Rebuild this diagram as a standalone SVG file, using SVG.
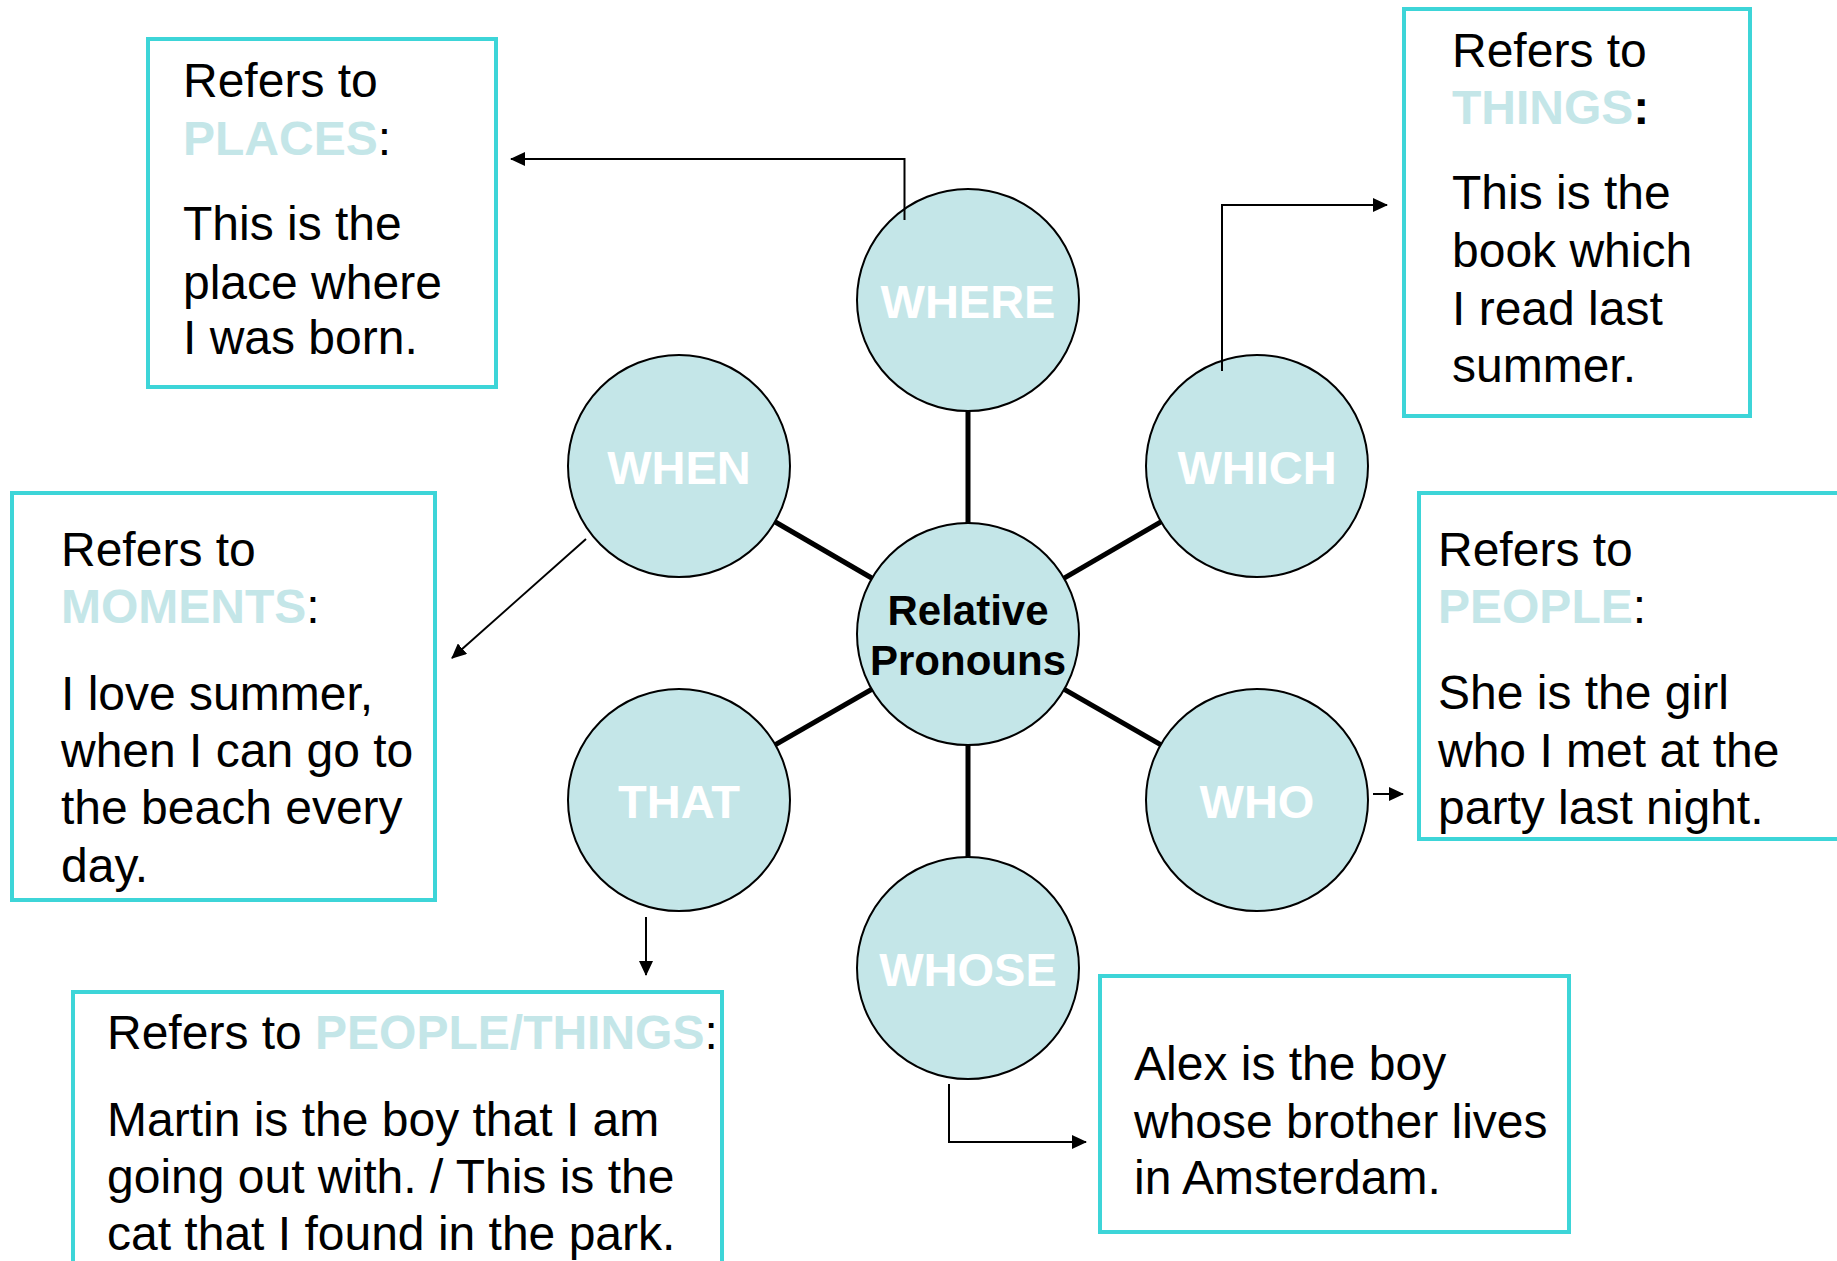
<svg xmlns="http://www.w3.org/2000/svg" width="1837" height="1261" viewBox="0 0 1837 1261">
<style>
.box{fill:#fff;stroke:#3dd5d8;stroke-width:4}
.circ{fill:#c4e6e8;stroke:#000;stroke-width:2}
.t{font-family:"Liberation Sans",Arial,sans-serif;font-size:48px;fill:#000}
.hl{font-weight:bold;fill:#c4e6e8}
.lbl{font-family:"Liberation Sans",Arial,sans-serif;font-size:47px;font-weight:bold;fill:#fff;text-anchor:middle}
.ctr{font-family:"Liberation Sans",Arial,sans-serif;font-size:42px;font-weight:bold;fill:#000;text-anchor:middle}
.spoke{stroke:#000;stroke-width:5}
.arr{fill:none;stroke:#000;stroke-width:2;marker-end:url(#ah)}
</style>
<defs>
<marker id="ah" viewBox="0 0 15 14" refX="14" refY="7" markerWidth="15" markerHeight="14" markerUnits="userSpaceOnUse" orient="auto">
<path d="M0,0 L15,7 L0,14 z" fill="#000"/>
</marker>
</defs>
<rect width="1837" height="1261" fill="#fff"/>
<g id="connectors">
<line class="spoke" x1="968" y1="634" x2="968" y2="300"/>
<line class="spoke" x1="968" y1="634" x2="968" y2="968"/>
<line class="spoke" x1="968" y1="634" x2="679" y2="466"/>
<line class="spoke" x1="968" y1="634" x2="1257" y2="466"/>
<line class="spoke" x1="968" y1="634" x2="679" y2="800"/>
<line class="spoke" x1="968" y1="634" x2="1257" y2="800"/>
</g>
<g id="node-center"><ellipse class="circ" cx="968" cy="634" rx="111" ry="111"/>
<text class="ctr" x="968" y="625">Relative</text><text class="ctr" x="968" y="675">Pronouns</text></g>
<g id="node-where"><ellipse class="circ" cx="968" cy="300" rx="111" ry="111"/><text class="lbl" x="968" y="318">WHERE</text></g>
<g id="node-when"><ellipse class="circ" cx="679" cy="466" rx="111" ry="111"/><text class="lbl" x="679" y="484">WHEN</text></g>
<g id="node-which"><ellipse class="circ" cx="1257" cy="466" rx="111" ry="111"/><text class="lbl" x="1257" y="484">WHICH</text></g>
<g id="node-that"><ellipse class="circ" cx="679" cy="800" rx="111" ry="111"/><text class="lbl" x="679" y="818">THAT</text></g>
<g id="node-who"><ellipse class="circ" cx="1257" cy="800" rx="111" ry="111"/><text class="lbl" x="1257" y="818">WHO</text></g>
<g id="node-whose"><ellipse class="circ" cx="968" cy="968" rx="111" ry="111"/><text class="lbl" x="968" y="986">WHOSE</text></g>
<g id="arrows">
<path class="arr" d="M904.5,220 V159 H511"/>
<path class="arr" d="M1222,371 V205 H1387"/>
<path class="arr" d="M586,539 L452,658"/>
<path class="arr" d="M1373,794 H1403"/>
<path class="arr" d="M646,917 V975"/>
<path class="arr" d="M949,1084 V1142 H1086"/>
</g>
<g id="box-places"><rect class="box" x="148" y="39" width="348" height="348"/>
<text class="t" x="183" y="97">Refers to</text>
<text class="t" x="183" y="155"><tspan class="hl">PLACES</tspan>:</text>
<text class="t" x="183" y="240">This is the</text>
<text class="t" x="183" y="299">place where</text>
<text class="t" x="183" y="354">I was born.</text></g>
<g id="box-things"><rect class="box" x="1404" y="9" width="346" height="407"/>
<text class="t" x="1452" y="67">Refers to</text>
<text class="t" x="1452" y="124"><tspan class="hl">THINGS</tspan><tspan font-weight="bold">:</tspan></text>
<text class="t" x="1452" y="209">This is the</text>
<text class="t" x="1452" y="267">book which</text>
<text class="t" x="1452" y="325">I read last</text>
<text class="t" x="1452" y="382">summer.</text></g>
<g id="box-moments"><rect class="box" x="12" y="493" width="423" height="407"/>
<text class="t" x="61" y="566">Refers to</text>
<text class="t" x="61" y="623"><tspan class="hl">MOMENTS</tspan>:</text>
<text class="t" x="61" y="710">I love summer,</text>
<text class="t" x="61" y="767">when I can go to</text>
<text class="t" x="61" y="824">the beach every</text>
<text class="t" x="61" y="882">day.</text></g>
<g id="box-people"><rect class="box" x="1419" y="493" width="440" height="346"/>
<text class="t" x="1438" y="566">Refers to</text>
<text class="t" x="1438" y="623"><tspan class="hl">PEOPLE</tspan>:</text>
<text class="t" x="1438" y="709">She is the girl</text>
<text class="t" x="1438" y="767">who I met at the</text>
<text class="t" x="1438" y="824">party last night.</text></g>
<g id="box-peoplethings"><rect class="box" x="73" y="992" width="649" height="300"/>
<text class="t" x="107" y="1049">Refers to <tspan class="hl">PEOPLE/THINGS</tspan>:</text>
<text class="t" x="107" y="1136">Martin is the boy that I am</text>
<text class="t" x="107" y="1193">going out with. / This is the</text>
<text class="t" x="107" y="1250">cat that I found in the park.</text></g>
<g id="box-whose"><rect class="box" x="1100" y="976" width="469" height="256"/>
<text class="t" x="1134" y="1080">Alex is the boy</text>
<text class="t" x="1134" y="1138">whose brother lives</text>
<text class="t" x="1134" y="1194">in Amsterdam.</text></g>
</svg>
